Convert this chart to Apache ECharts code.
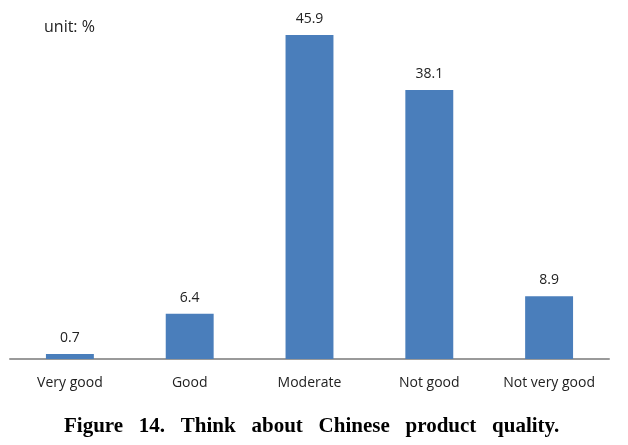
<!DOCTYPE html>
<html>
<head>
<meta charset="utf-8">
<script src="https://cdn.jsdelivr.net/npm/echarts@6/dist/echarts.min.js"></script>
<style>html,body{margin:0;padding:0;background:#fff;}#c{width:628px;height:445px;}</style>
</head>
<body>
<div id="c"></div>
<script>
const categories = ['Very good', 'Good', 'Moderate', 'Not good', 'Not very good'];
const values = [0.7, 6.4, 45.9, 38.1, 8.9];
const unitLabel = 'unit: %';
const caption = 'Figure   14.   Think   about   Chinese   product   quality.';

const chart = echarts.init(document.getElementById('c'), null, {renderer: 'canvas'});
chart.setOption({
  animation: false,
  backgroundColor: '#ffffff',
  title: [
    {text: unitLabel, left: 39, top: 14, textStyle: {fontFamily: 'Open Sans', fontSize: 16, fontWeight: 'normal', color: '#222'}},
    {text: caption, left: 59, top: 411, textStyle: {fontFamily: 'Liberation Serif', fontSize: 21, fontWeight: 'bold', color: '#000'}}
  ],
  grid: {left: 10, right: 19, top: 6, bottom: 86},
  xAxis: {
    type: 'category',
    data: categories,
    axisLine: {lineStyle: {color: '#9a9a9a', width: 2}},
    axisTick: {show: false},
    axisLabel: {margin: 17, fontFamily: 'Open Sans', fontSize: 14, color: '#222', interval: 0}
  },
  yAxis: {type: 'value', min: 0, max: 50, show: false, splitLine: {show: false}},
  series: [{
    type: 'bar',
    data: values,
    barWidth: '40%',
    itemStyle: {color: '#4a7ebb'},
    label: {show: true, position: 'top', distance: 9, fontFamily: 'Open Sans', fontSize: 14, color: '#222'}
  }]
});
</script>
</body>
</html>
